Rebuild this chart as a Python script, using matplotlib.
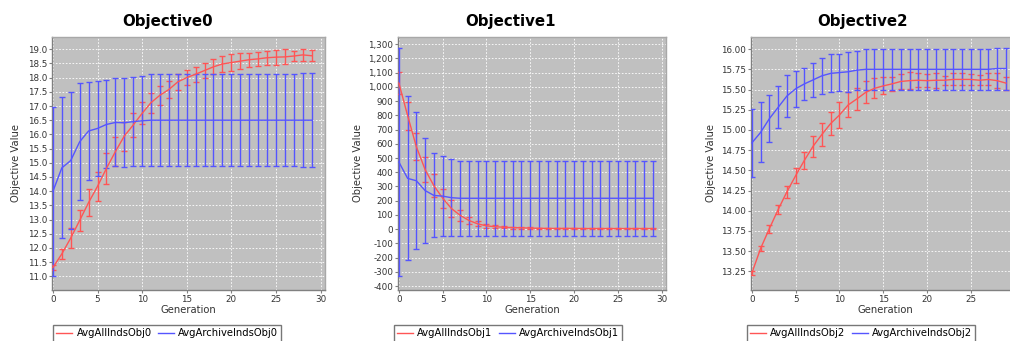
import matplotlib
matplotlib.use('Agg')
import matplotlib.pyplot as plt
from matplotlib.ticker import MultipleLocator, FuncFormatter
from matplotlib.lines import Line2D

plt.rcParams['font.family'] = ['DejaVu Sans']

# data
generation = list(range(30))

obj0_all_mean = [11.31, 11.79, 12.35, 12.97, 13.60, 14.17, 14.80, 15.39, 15.94, 16.33,
                 16.74, 17.12, 17.38, 17.58, 17.85, 18.00, 18.12, 18.25, 18.38, 18.48,
                 18.53, 18.58, 18.63, 18.66, 18.70, 18.72, 18.73, 18.76, 18.80, 18.77]
obj0_all_err = [0.10, 0.17, 0.34, 0.38, 0.49, 0.51, 0.53, 0.52, 0.51, 0.42,
                0.39, 0.35, 0.34, 0.29, 0.28, 0.27, 0.27, 0.28, 0.26, 0.27,
                0.30, 0.28, 0.25, 0.25, 0.24, 0.26, 0.26, 0.18, 0.22, 0.20]
obj0_arch_mean = [13.99, 14.82, 15.08, 15.74, 16.12, 16.21, 16.35, 16.42, 16.41, 16.45,
                  16.48, 16.50, 16.50, 16.50, 16.50, 16.50, 16.50, 16.50, 16.50, 16.50,
                  16.50, 16.50, 16.50, 16.50, 16.50, 16.50, 16.50, 16.50, 16.50, 16.50]
obj0_arch_err = [2.98, 2.48, 2.40, 2.06, 1.73, 1.66, 1.55, 1.55, 1.56, 1.57,
                 1.58, 1.62, 1.62, 1.62, 1.62, 1.62, 1.62, 1.62, 1.62, 1.62,
                 1.62, 1.62, 1.62, 1.62, 1.62, 1.62, 1.62, 1.62, 1.65, 1.65]

obj1_all_mean = [1027, 798, 579, 418, 305, 218, 145, 97, 61, 37,
                 23, 17, 13, 11, 9, 7, 6, 5, 5, 5,
                 5, 4, 4, 4, 4, 4, 4, 4, 4, 4]
obj1_all_err = [77, 98, 94, 86, 82, 66, 58, 41, 25, 18,
                12, 9, 8, 7, 6, 5, 4, 4, 4, 4,
                4, 3, 3, 3, 3, 3, 3, 3, 3, 3]
obj1_arch_mean = [472, 357, 340, 271, 237, 232, 221, 217, 217, 217,
                  217, 217, 217, 217, 217, 217, 217, 217, 217, 217,
                  217, 217, 217, 217, 217, 217, 217, 217, 217, 217]
obj1_arch_err = [804, 577, 482, 371, 295, 280, 269, 262, 262, 262,
                 262, 262, 262, 262, 262, 262, 262, 262, 262, 262,
                 262, 262, 262, 262, 262, 262, 262, 262, 262, 262]

obj2_all_mean = [13.23, 13.535, 13.78, 14.015, 14.235, 14.435, 14.625, 14.80, 14.945, 15.08,
                 15.185, 15.31, 15.385, 15.465, 15.515, 15.545, 15.57, 15.60, 15.61, 15.615,
                 15.61, 15.615, 15.615, 15.625, 15.625, 15.625, 15.615, 15.625, 15.61, 15.58]
obj2_all_err = [0.03, 0.035, 0.05, 0.055, 0.075, 0.095, 0.105, 0.13, 0.145, 0.14,
                0.155, 0.155, 0.135, 0.135, 0.125, 0.105, 0.09, 0.095, 0.105, 0.085,
                0.08, 0.095, 0.055, 0.075, 0.075, 0.07, 0.065, 0.075, 0.09, 0.08]
obj2_arch_mean = [14.84, 14.97, 15.14, 15.28, 15.42, 15.51, 15.57, 15.62, 15.67, 15.70,
                  15.71, 15.72, 15.74, 15.75, 15.75, 15.75, 15.75, 15.75, 15.75, 15.75,
                  15.75, 15.75, 15.75, 15.75, 15.75, 15.75, 15.75, 15.75, 15.76, 15.76]
obj2_arch_err = [0.42, 0.37, 0.29, 0.26, 0.26, 0.22, 0.20, 0.21, 0.22, 0.235,
                 0.23, 0.25, 0.24, 0.25, 0.25, 0.25, 0.25, 0.25, 0.25, 0.25,
                 0.25, 0.25, 0.25, 0.25, 0.25, 0.25, 0.25, 0.25, 0.26, 0.26]

W, H = 1010, 341
red = '#FF5555'
blue = '#5555FF'
bg = '#C0C0C0'

fig = plt.figure(figsize=(W / 100, H / 100), dpi=100)
fig.patch.set_facecolor('white')


def px_axes(left, top, right, bottom):
    return fig.add_axes([left / W, (H - bottom) / H, (right - left) / W, (bottom - top) / H])


panels = [
    dict(rect=(52, 37, 325, 290), title='Objective0', tx=168, lx=167,
         ylim=(10.52, 19.43), ystep=0.5, fmt=lambda v, p: f'{v:.1f}',
         all=(obj0_all_mean, obj0_all_err), arch=(obj0_arch_mean, obj0_arch_err),
         names=('AvgAllIndsObj0', 'AvgArchiveIndsObj0'), ylab=-0.115),
    dict(rect=(398, 37, 666, 290), title='Objective1', tx=510, lx=508,
         ylim=(-428, 1351), ystep=100, fmt=lambda v, p: f'{int(round(v)):,}',
         all=(obj1_all_mean, obj1_all_err), arch=(obj1_arch_mean, obj1_arch_err),
         names=('AvgAllIndsObj1', 'AvgArchiveIndsObj1'), ylab=-0.13),
    dict(rect=(751, 37, 1019, 290), title='Objective2', tx=862, lx=861,
         ylim=(13.02, 16.15), ystep=0.25, fmt=lambda v, p: f'{v:.2f}',
         all=(obj2_all_mean, obj2_all_err), arch=(obj2_arch_mean, obj2_arch_err),
         names=('AvgAllIndsObj2', 'AvgArchiveIndsObj2'), ylab=-0.13),
]

for p in panels:
    ax = px_axes(*p['rect'])
    ax.set_facecolor(bg)
    ax.set_xlim(-0.1, 30.5)
    ax.set_ylim(*p['ylim'])
    ax.xaxis.set_major_locator(MultipleLocator(5))
    ax.yaxis.set_major_locator(MultipleLocator(p['ystep']))
    ax.yaxis.set_major_formatter(FuncFormatter(p['fmt']))
    ax.grid(True, color='white', linestyle=(0, (2, 2)), linewidth=0.6)
    ax.set_axisbelow(True)
    for s in ax.spines.values():
        s.set_color('#A8A8A8')
        s.set_linewidth(1)
    ax.spines['left'].set_color('#808080')
    ax.spines['bottom'].set_color('#808080')
    ax.tick_params(length=2, width=0.8, color='#808080', labelsize=6.3,
                   labelcolor='#333333', pad=1.5)

    m, e = p['all']
    ax.errorbar(generation, m, yerr=e, fmt='none', ecolor=red, elinewidth=1,
                capsize=2, capthick=1, zorder=3)
    m2, e2 = p['arch']
    ax.errorbar(generation, m2, yerr=e2, fmt='none', ecolor=blue, elinewidth=1,
                capsize=2, capthick=1, zorder=3)
    ax.plot(generation, m, color=red, linewidth=1, zorder=4)
    ax.plot(generation, m2, color=blue, linewidth=1, zorder=4)

    ax.set_xlabel('Generation', fontsize=7.2, color='#333333')
    ax.xaxis.set_label_coords(0.5, -0.06)
    ax.set_ylabel('Objective Value', fontsize=7.2, color='#333333')
    ax.yaxis.set_label_coords(p['ylab'], 0.5)

    fig.text(p['tx'] / W, (H - 26) / H, p['title'], fontsize=10.8,
             fontweight='bold', ha='center', va='baseline')

    handles = [Line2D([], [], color=red, lw=1), Line2D([], [], color=blue, lw=1)]
    leg = fig.legend(handles, p['names'], loc='upper center',
                     bbox_to_anchor=(p['lx'] / W, (H - 325) / H), ncol=2,
                     fontsize=7.2, frameon=True, fancybox=False, handlelength=1.6,
                     handletextpad=0.4, columnspacing=0.6, borderpad=0.35,
                     borderaxespad=0)
    leg.get_frame().set_edgecolor('#555555')
    leg.get_frame().set_linewidth(1)

plt.savefig('out.png', dpi=100, facecolor='white')
